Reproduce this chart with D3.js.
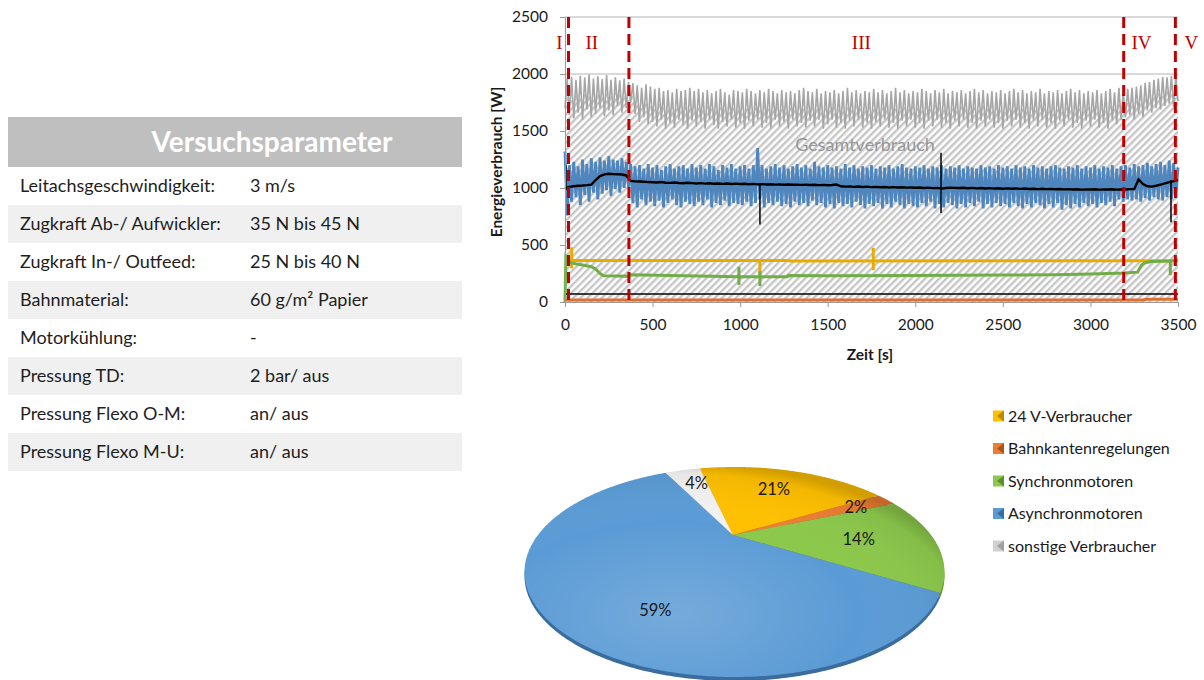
<!DOCTYPE html>
<html><head><meta charset="utf-8">
<script src="https://cdn.jsdelivr.net/npm/d3@7"></script>
<style>body{margin:0;background:#fff;} svg{display:block;font-family:Lato,'Open Sans',sans-serif;}</style>
</head><body><svg id="c" width="1204" height="680"></svg>
<script>
// ---------------- DATA ----------------
const tableTitle = "Versuchsparameter";
const paramNames = ["Leitachsgeschwindigkeit:","Zugkraft Ab-/ Aufwickler:","Zugkraft In-/ Outfeed:","Bahnmaterial:","Motorkühlung:","Pressung TD:","Pressung Flexo O-M:","Pressung Flexo M-U:"];
const paramValues = ["3 m/s","35 N bis 45 N","25 N bis 40 N","60 g/m² Papier","-","2 bar/ aus","an/ aus","an/ aus"];

const xTicks = [0,500,1000,1500,2000,2500,3000,3500];
const yTicks = [0,500,1000,1500,2000,2500];
const phaseBounds = [20,365,3190,3485];
const phaseNames = ["I","II","III","IV","V"];

// Gesamtverbrauch, sampled every 12.5 s
const grayStep = 12.5;
const grayValues = [
1700,1960,1640,1975,1610,1950,1660,1985,1600,1970,1690,1995,1620,1960,1650,1980,1700,1955,1630,1990,
1680,1950,1640,1970,1720,1945,1660,1960,1700,1930,1750,1920,1650,1900,1580,1880,1620,1910,1560,1890,
1580,1870,1540,1880,1600,1850,1520,1860,1570,1840,1530,1870,1600,1850,1550,1860,1520,1880,1590,1850,
1540,1870,1580,1840,1520,1860,1600,1830,1550,1850,1520,1870,1580,1840,1540,1820,1600,1860,1530,1850,
1570,1840,1520,1870,1590,1850,1540,1830,1600,1860,1530,1840,1570,1870,1520,1850,1600,1830,1540,1860,
1580,1840,1520,1850,1600,1830,1540,1860,1570,1880,1530,1850,1590,1840,1540,1870,1600,1830,1520,1850,
1560,1840,1600,1860,1530,1830,1570,1850,1520,1880,1590,1840,1540,1860,1600,1830,1530,1850,1570,1840,
1520,1870,1580,1840,1540,1860,1600,1830,1530,1850,1570,1880,1520,1840,1590,1860,1540,1830,1600,1850,
1530,1840,1570,1870,1520,1850,1590,1830,1540,1860,1600,1840,1530,1870,1570,1830,1520,1850,1590,1840,
1540,1860,1600,1830,1530,1850,1570,1870,1520,1840,1590,1860,1540,1830,1600,1850,1530,1840,1570,1860,
1520,1830,1590,1850,1540,1870,1600,1840,1530,1860,1570,1830,1520,1850,1590,1840,1540,1870,1600,1830,
1530,1850,1570,1840,1520,1860,1590,1830,1540,1850,1600,1870,1530,1840,1570,1860,1520,1830,1590,1850,
1540,1840,1600,1860,1530,1830,1570,1850,1520,1870,1590,1840,1560,1880,1600,1850,1620,1870,1640,1880,
1600,1890,1650,1900,1620,1920,1680,1930,1660,1950,1700,1960,1690,1975,1720,1970,1740,1985,1710,1990,
1760];

// Asynchronmotoren, sampled every 12.5 s
const blueStep = 12.5;
const blueValues = [
1320,760,1200,880,1230,920,1190,850,1250,940,1210,880,1260,960,1230,900,1270,950,1240,980,
1280,930,1250,990,1240,960,1260,1000,1230,1010,1210,870,1190,830,1200,900,1170,850,1210,880,
1180,840,1200,890,1160,830,1190,870,1210,900,1170,850,1190,830,1200,880,1170,860,1210,840,
1180,880,1200,850,1170,900,1210,830,1190,870,1160,850,1200,890,1180,840,1210,870,1170,860,
1190,850,1200,880,1170,840,1200,870,1350,900,1200,830,1170,870,1190,850,1210,880,1180,840,
1200,860,1170,830,1190,880,1210,850,1180,870,1200,840,1170,890,1230,850,1190,870,1180,830,
1200,860,1180,820,1190,870,1170,840,1210,860,1180,830,1200,880,1170,850,1190,820,1180,860,
1200,840,1170,870,1190,820,1180,860,1200,830,1170,880,1190,850,1210,820,1180,860,1170,840,
1190,830,1180,870,1200,840,1170,880,1190,820,1180,860,1200,830,1170,870,1190,850,1180,820,
1200,860,1170,830,1190,870,1180,840,1170,880,1200,820,1180,860,1190,830,1170,870,1200,840,
1180,860,1190,830,1170,870,1200,840,1180,820,1190,860,1170,830,1200,870,1180,850,1190,820,
1170,860,1190,830,1200,870,1180,810,1170,850,1190,820,1180,860,1200,830,1170,870,1190,840,
1180,860,1200,830,1170,870,1190,850,1180,880,1200,840,1170,900,1190,880,1200,900,1180,890,
1210,900,1190,880,1200,910,1220,890,1190,920,1210,900,1230,890,1200,920,1240,900,1220,910,
1180];

// black mean line, sampled every 25 s
const blackStep = 25;
const blackValues = [
1000,1010,1015,1020,1022,1025,1030,1070,1105,1120,
1125,1122,1120,1118,1110,1062,1058,1057,1055,1052,
1050,1048,1052,1046,1045,1048,1044,1042,1046,1043,
1040,1043,1038,1041,1037,1040,1036,1039,1035,1038,
1035,1037,1033,1036,1032,1034,1031,1033,1030,1032,
1029,1031,1028,1030,1027,1029,1026,1028,1025,1027,
1024,1026,1030,1015,1012,1014,1010,1013,1009,1012,
1008,1010,1007,1009,1005,1008,1004,1006,1003,1005,
1002,1004,1000,1003,999,1001,995,1000,1003,1001,
1000,1002,998,1001,997,1000,996,999,995,998,
994,997,993,996,992,995,991,994,990,993,
990,992,989,991,988,990,987,989,986,988,
987,989,986,988,987,989,986,988,987,990,
990,1075,1035,1015,1012,1020,1030,1040,1052,1060,
1070];
const blackSpikeT  = [5,1113,2147,3460];
const blackSpikeLo = [980,680,780,700];
const blackSpikeHi = [1200,1040,1310,1070];

// 24 V-Verbraucher
const yellowT = [0,30,45,1270,1285,3500];
const yellowV = [340,365,365,365,360,362];
const yellowSpikeT  = [38,1113,1760];
const yellowSpikeLo = [295,240,280];
const yellowSpikeHi = [480,362,475];

// Synchronmotoren
const greenT = [0,5,15,30,60,100,150,175,200,220,300,365,370,600,1000,1270,1275,1500,2000,2500,2800,3000,3190,3270,3290,3310,3350,3450,3500];
const greenV = [0,400,380,345,335,325,310,290,250,230,228,225,238,232,222,222,232,230,232,236,240,245,255,262,320,345,355,360,365];
const greenSpikeT  = [993,1113,3456];
const greenSpikeLo = [150,140,235];
const greenSpikeHi = [310,270,365];

// constant consumers
const baseT = [0,3500];
const baseV = [70,70];
const orangeT = [0,3300,3320,3500];
const orangeV = [18,18,24,24];

// Pie
const pieNames  = ["24 V-Verbraucher","Bahnkantenregelungen","Synchronmotoren","Asynchronmotoren","sonstige Verbraucher"];
const pieValues = [21,2,14,59,4];
const pieColors = ["#ffc000","#ed7d31","#8cc84b","#5b9bd5","#f2f2f2"];
const pieDark   = ["#b88a00","#a85520","#5e8f2c","#3a6d9e","#a0a0a0"];

// ---------------- DRAW ----------------
const svg = d3.select('#c');
const defs = svg.append('defs');
const pat = defs.append('pattern').attr('id','hatch').attr('patternUnits','userSpaceOnUse')
  .attr('width',5).attr('height',5).attr('patternTransform','rotate(45)');
pat.append('rect').attr('width',5).attr('height',5).attr('fill','#fff');
pat.append('rect').attr('width',2.4).attr('height',5).attr('fill','#c6c6c6');

// ---- Table ----
const tbl = svg.append('g');
const tX = 8, tW = 454, headY = 117, headH = 50, rowH = 38;
tbl.append('rect').attr('x',tX).attr('y',headY).attr('width',tW).attr('height',headH).attr('fill','#bfbfbf');
tbl.append('text').attr('x',272).attr('y',headY+35).attr('text-anchor','middle')
  .attr('fill','#fff').attr('font-weight','bold').attr('font-size',28).text(tableTitle);
paramNames.forEach((n,i)=>{
  const y0 = headY+headH+i*rowH;
  tbl.append('rect').attr('x',tX).attr('y',y0).attr('width',tW).attr('height',rowH)
    .attr('fill', i%2===1 ? '#f0f0f0' : '#fff');
  tbl.append('text').attr('x',20).attr('y',y0+25).attr('font-size',18).attr('fill','#1e1e1e').text(n);
  tbl.append('text').attr('x',250).attr('y',y0+25).attr('font-size',18).attr('fill','#1e1e1e').text(paramValues[i]);
});

// ---- Line chart ----
const x = d3.scaleLinear().domain([0,3500]).range([565,1178]);
const y = d3.scaleLinear().domain([0,2500]).range([302,17]);
const ch = svg.append('g');

ch.append('g').selectAll('line').data(yTicks.filter(d=>d>0)).join('line')
  .attr('x1',x(0)).attr('x2',x(3500)).attr('y1',d=>y(d)).attr('y2',d=>y(d))
  .attr('stroke','#b4b4b4').attr('stroke-width',1);

const grayData = grayValues.map((v,i)=>({t:i*grayStep,v}));
const blueData = blueValues.map((v,i)=>({t:i*blueStep,v}));
const blackData = blackValues.map((v,i)=>({t:i*blackStep,v}));
const zip = (T,V)=>T.map((t,i)=>({t,v:V[i]}));

const line = d3.line().x(d=>x(d.t)).y(d=>y(d.v));
const area = d3.area().x(d=>x(d.t)).y0(y(0)).y1(d=>y(d.v));

ch.append('path').datum(grayData).attr('d',area).attr('fill','url(#hatch)');
ch.append('path').datum(grayData).attr('d',line).attr('fill','none').attr('stroke','#a6a6a6').attr('stroke-width',1.6);

ch.append('text').attr('x',865).attr('y',151).attr('text-anchor','middle').attr('font-size',18)
  .attr('fill','#969696').text('Gesamtverbrauch');

ch.append('path').datum(blueData).attr('d',line).attr('fill','none').attr('stroke','#4f86bd').attr('stroke-width',2.8);

function spikes(T,Lo,Hi,color,w){
  ch.append('g').selectAll('line').data(T.map((t,i)=>({t,lo:Lo[i],hi:Hi[i]}))).join('line')
    .attr('x1',d=>x(d.t)).attr('x2',d=>x(d.t)).attr('y1',d=>y(d.lo)).attr('y2',d=>y(d.hi))
    .attr('stroke',color).attr('stroke-width',w);
}
ch.append('path').datum(blackData).attr('d',line).attr('fill','none').attr('stroke','#000').attr('stroke-width',2.4);
spikes(blackSpikeT,blackSpikeLo,blackSpikeHi,'#000',1.5);

ch.append('path').datum(zip(yellowT,yellowV)).attr('d',line).attr('fill','none').attr('stroke','#e8ac00').attr('stroke-width',3);
spikes(yellowSpikeT,yellowSpikeLo,yellowSpikeHi,'#e8ac00',3);
ch.append('path').datum(zip(greenT,greenV)).attr('d',line).attr('fill','none').attr('stroke','#70ad47').attr('stroke-width',3);
spikes(greenSpikeT,greenSpikeLo,greenSpikeHi,'#70ad47',3);
ch.append('path').datum(zip(baseT,baseV)).attr('d',line).attr('fill','none').attr('stroke','#000').attr('stroke-width',1.6);
ch.append('path').datum(zip(orangeT,orangeV)).attr('d',line).attr('fill','none').attr('stroke','#e07030').attr('stroke-width',3);

// phase boundaries
ch.append('g').selectAll('line').data(phaseBounds).join('line')
  .attr('x1',d=>x(d)).attr('x2',d=>x(d)).attr('y1',y(2500)).attr('y2',y(0))
  .attr('stroke','#c00000').attr('stroke-width',3).attr('stroke-dasharray','11,6');
const edges = [0].concat(phaseBounds).concat([3500]);
const labelShift = [-9,-7,-15,-8,16];
ch.append('g').selectAll('text').data(phaseNames).join('text')
  .attr('x',(d,i)=>{
    if(i===0) return x(phaseBounds[0])+labelShift[0];
    if(i===phaseNames.length-1) return x(phaseBounds[3])+labelShift[4];
    return (x(edges[i])+x(edges[i+1]))/2+labelShift[i];
  })
  .attr('y',49).attr('text-anchor','middle').attr('font-family','"Liberation Serif",serif')
  .attr('font-size',19).attr('fill','#c00000').text(d=>d);

// axes
const yAxis = ch.append('g').attr('transform',`translate(${x(0)},0)`)
  .call(d3.axisLeft(y).tickValues(yTicks).tickSize(5).tickPadding(12).tickFormat(d3.format('d')));
const xAxis = ch.append('g').attr('transform',`translate(0,${y(0)})`)
  .call(d3.axisBottom(x).tickValues(xTicks).tickSize(5).tickPadding(12).tickFormat(d3.format('d')));
[yAxis,xAxis].forEach(a=>{
  a.select('.domain').attr('stroke','#9a9a9a');
  a.selectAll('.tick line').attr('stroke','#9a9a9a');
  a.selectAll('.tick text').attr('font-size',15.5).attr('fill','#1a1a1a').attr('font-family','Lato,sans-serif');
});
ch.append('text').attr('transform','translate(502,162) rotate(-90)').attr('text-anchor','middle')
  .attr('font-weight','bold').attr('font-size',15.5).attr('fill','#1a1a1a').text('Energieverbrauch [W]');
ch.append('text').attr('x',870).attr('y',360).attr('text-anchor','middle')
  .attr('font-weight','bold').attr('font-size',15.5).attr('fill','#1a1a1a').text('Zeit [s]');

// ---- Pie (3D-like ellipse) ----
const P = {cx:734.5, cy:572, rx:210, ry:105, ax:733, ay:535};
const au = (P.ax-P.cx)/P.rx, av = (P.ay-P.cy)/P.ry;
function edgePt(theta, frac, dy){
  const du = Math.sin(theta), dv = -Math.cos(theta);
  const ad = au*du+av*dv, aa = au*au+av*av;
  const s = -ad + Math.sqrt(ad*ad - (aa-1));
  const f = frac===undefined?1:frac;
  return [P.cx + (au+f*s*du)*P.rx, P.cy + (av+f*s*dv)*P.ry + (dy||0)];
}
function slicePath(a0,a1,dy){
  const pts = [[P.ax, P.ay+(dy||0)]];
  const n = Math.max(2, Math.ceil((a1-a0)/0.01));
  for(let k=0;k<=n;k++) pts.push(edgePt(a0+(a1-a0)*k/n,1,dy));
  return d3.line()(pts)+'Z';
}
const deg = Math.PI/180;
const startA = -14*deg;
const pie = d3.pie().sort(null).startAngle(startA).endAngle(startA+2*Math.PI);
const arcs = pie(pieValues);
const pg = svg.append('g');
const shade = defs.append('radialGradient').attr('id','shade').attr('cx','36%').attr('cy','70%').attr('r','72%');
shade.append('stop').attr('offset','0%').attr('stop-color','#fff').attr('stop-opacity',0.16);
shade.append('stop').attr('offset','60%').attr('stop-color','#fff').attr('stop-opacity',0);
shade.append('stop').attr('offset','93%').attr('stop-color','#000').attr('stop-opacity',0.05);
shade.append('stop').attr('offset','100%').attr('stop-color','#000').attr('stop-opacity',0.18);
pg.selectAll('path.rim').data(arcs).join('path').attr('class','rim')
  .attr('d',d=>slicePath(d.startAngle,d.endAngle,4)).attr('fill',(d,i)=>pieDark[i]);
pg.selectAll('path.top').data(arcs).join('path').attr('class','top')
  .attr('d',d=>slicePath(d.startAngle,d.endAngle,0)).attr('fill',(d,i)=>pieColors[i]);
pg.append('path').attr('d',slicePath(startA,startA+2*Math.PI,0)).attr('fill','url(#shade)');
const labFrac = [0.72,0.8,0.62,0.62,0.8];
const labShift = [0,0,0,-18*deg,2*deg];
const labPos = (d,i)=>edgePt((d.startAngle+d.endAngle)/2+labShift[i],labFrac[i]);
pg.selectAll('text').data(arcs).join('text')
  .attr('x',(d,i)=>labPos(d,i)[0])
  .attr('y',(d,i)=>labPos(d,i)[1]+6)
  .attr('text-anchor','middle').attr('font-size',16.5).attr('fill','#1a1a1a')
  .text(d=>d.value+'%');

// legend
const lg = svg.append('g').selectAll('g').data(pieNames).join('g')
  .attr('transform',(d,i)=>`translate(993,${416+i*32.5})`);
lg.append('rect').attr('x',0).attr('y',-5.5).attr('width',11).attr('height',11).attr('fill',(d,i)=>pieColors[i]==='#f2f2f2'?'#d0d0d0':pieColors[i]);
lg.append('path').attr('d','M11,-5.5L4,0L11,5.5Z').attr('fill',(d,i)=>pieDark[i]);
lg.append('text').attr('x',15).attr('y',5.5).attr('font-size',16).attr('fill','#1a1a1a').text(d=>d);
</script></body></html>
